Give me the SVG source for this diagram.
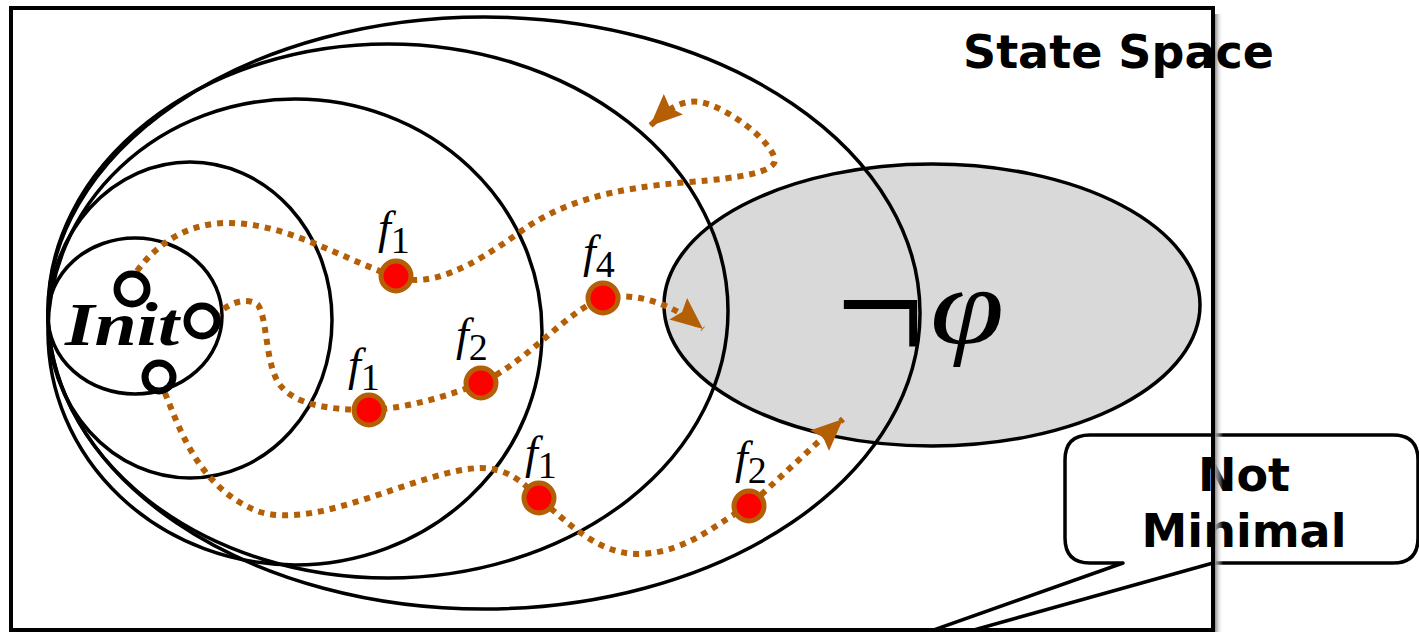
<svg xmlns="http://www.w3.org/2000/svg" width="1419" height="632" viewBox="0 0 1419 632">
<style>
.ring{fill:none;stroke:#000;stroke-width:3.5}
.path{fill:none;stroke:#b45f06;stroke-width:6;stroke-dasharray:6 6}
.dot{fill:#ff0000;stroke:#b45f06;stroke-width:5}
.init{fill:none;stroke:#000;stroke-width:7}
.fi{font-family:"Liberation Serif",serif;font-style:italic;font-size:46px}
.sub{font-family:"Liberation Serif",serif;font-style:normal;font-size:38px}
.bold{font-family:"DejaVu Sans",Verdana,sans-serif;font-weight:bold;font-size:46px}
</style>
<defs>
<marker id="ah" markerUnits="userSpaceOnUse" markerWidth="34" markerHeight="30" viewBox="0 0 34 30" refX="32" refY="15" orient="auto">
<path d="M0,1 L32,15 L0,29 L5,15 Z" fill="#b45f06"/>
</marker>
<linearGradient id="sh" x1="0" y1="0" x2="1" y2="0">
<stop offset="0" stop-color="#8c8c8c"/>
<stop offset="1" stop-color="#ffffff" stop-opacity="0"/>
</linearGradient>
</defs>
<rect x="0" y="0" width="1419" height="632" fill="#fff"/>
<g id="notphi">
<ellipse cx="932" cy="305" rx="268" ry="141" fill="#d9d9d9" stroke="#000" stroke-width="3.5"/>
<text transform="translate(836,364) scale(1.05,1.2)" font-family="Liberation Serif,serif" font-size="150">¬</text>
<text transform="translate(930,344) scale(1.22,1)" font-family="Liberation Serif,serif" font-style="italic" font-size="110">φ</text>
</g>
<g id="rings">
<ellipse class="ring" cx="484" cy="313" rx="436" ry="296"/>
<ellipse class="ring" cx="388" cy="311" rx="340" ry="267"/>
<ellipse class="ring" cx="295" cy="332" rx="247" ry="233"/>
<ellipse class="ring" cx="190" cy="320" rx="142" ry="158"/>
</g>
<g id="init">
<ellipse cx="135" cy="316" rx="87" ry="78" fill="none" stroke="#000" stroke-width="3.5"/>
<text x="65" y="345" font-family="Liberation Serif,serif" font-style="italic" font-weight="bold" font-size="62" textLength="114" lengthAdjust="spacingAndGlyphs">Init</text>
</g>
<g id="connectors">
<path class="path" marker-end="url(#ah)" d="M137,271 C160,240 190,224 225,223 C285,222 340,258 396,277 C430,288 470,268 520,232 C560,203 610,188 690,182 C740,178 775,172 775,160 C772,142 730,108 700,102 C680,99 665,112 650,126"/>
<path class="path" marker-end="url(#ah)" d="M215,317 C225,305 245,295 258,305 C268,320 265,365 280,385 C295,405 330,410 369,410 C410,408 450,395 481,383 C530,360 565,312 603,298 C635,292 670,302 703,329"/>
<path class="path" marker-end="url(#ah)" d="M165,393 C180,430 200,490 260,512 C320,530 420,470 480,468 C510,468 525,485 539,498 C570,525 600,555 640,554 C690,552 720,520 749,506 L843,419"/>
</g>
<g id="startStates">
<circle class="init" cx="132" cy="289" r="15"/>
<circle class="init" cx="202" cy="321" r="15"/>
<circle class="init" cx="159" cy="377" r="14"/>
</g>
<g id="faults">
<circle class="dot" cx="396" cy="276" r="15"/>
<circle class="dot" cx="369" cy="410" r="15"/>
<circle class="dot" cx="481" cy="383" r="15"/>
<circle class="dot" cx="603" cy="298" r="15"/>
<circle class="dot" cx="539" cy="498" r="15"/>
<circle class="dot" cx="749" cy="506" r="15"/>
<text x="378" y="243"><tspan class="fi">f</tspan><tspan class="sub" dy="10">1</tspan></text>
<text x="348" y="380"><tspan class="fi">f</tspan><tspan class="sub" dy="10">1</tspan></text>
<text x="456" y="350"><tspan class="fi">f</tspan><tspan class="sub" dy="10">2</tspan></text>
<text x="583" y="267"><tspan class="fi">f</tspan><tspan class="sub" dy="10">4</tspan></text>
<text x="525" y="468"><tspan class="fi">f</tspan><tspan class="sub" dy="10">1</tspan></text>
<text x="735" y="473"><tspan class="fi">f</tspan><tspan class="sub" dy="10">2</tspan></text>
</g>
<g id="callout">
<path d="M1090,435 H1393 Q1418,435 1418,460 V538 Q1418,563 1393,563 H1213 L781,684 L1123,563 H1090 Q1065,563 1065,538 V460 Q1065,435 1090,435 Z" fill="#fff" stroke="#000" stroke-width="3.5" stroke-linejoin="round"/>
<text class="bold" x="1244" y="491" text-anchor="middle">Not</text>
<text class="bold" x="1244" y="547" text-anchor="middle">Minimal</text>
</g>
<g id="stateSpace">
<rect x="1215" y="14" width="8" height="618" fill="url(#sh)"/>
<rect x="11" y="8" width="1202" height="622" fill="none" stroke="#000" stroke-width="4"/>
<text class="bold" x="963" y="68">State Space</text>
</g>
</svg>
